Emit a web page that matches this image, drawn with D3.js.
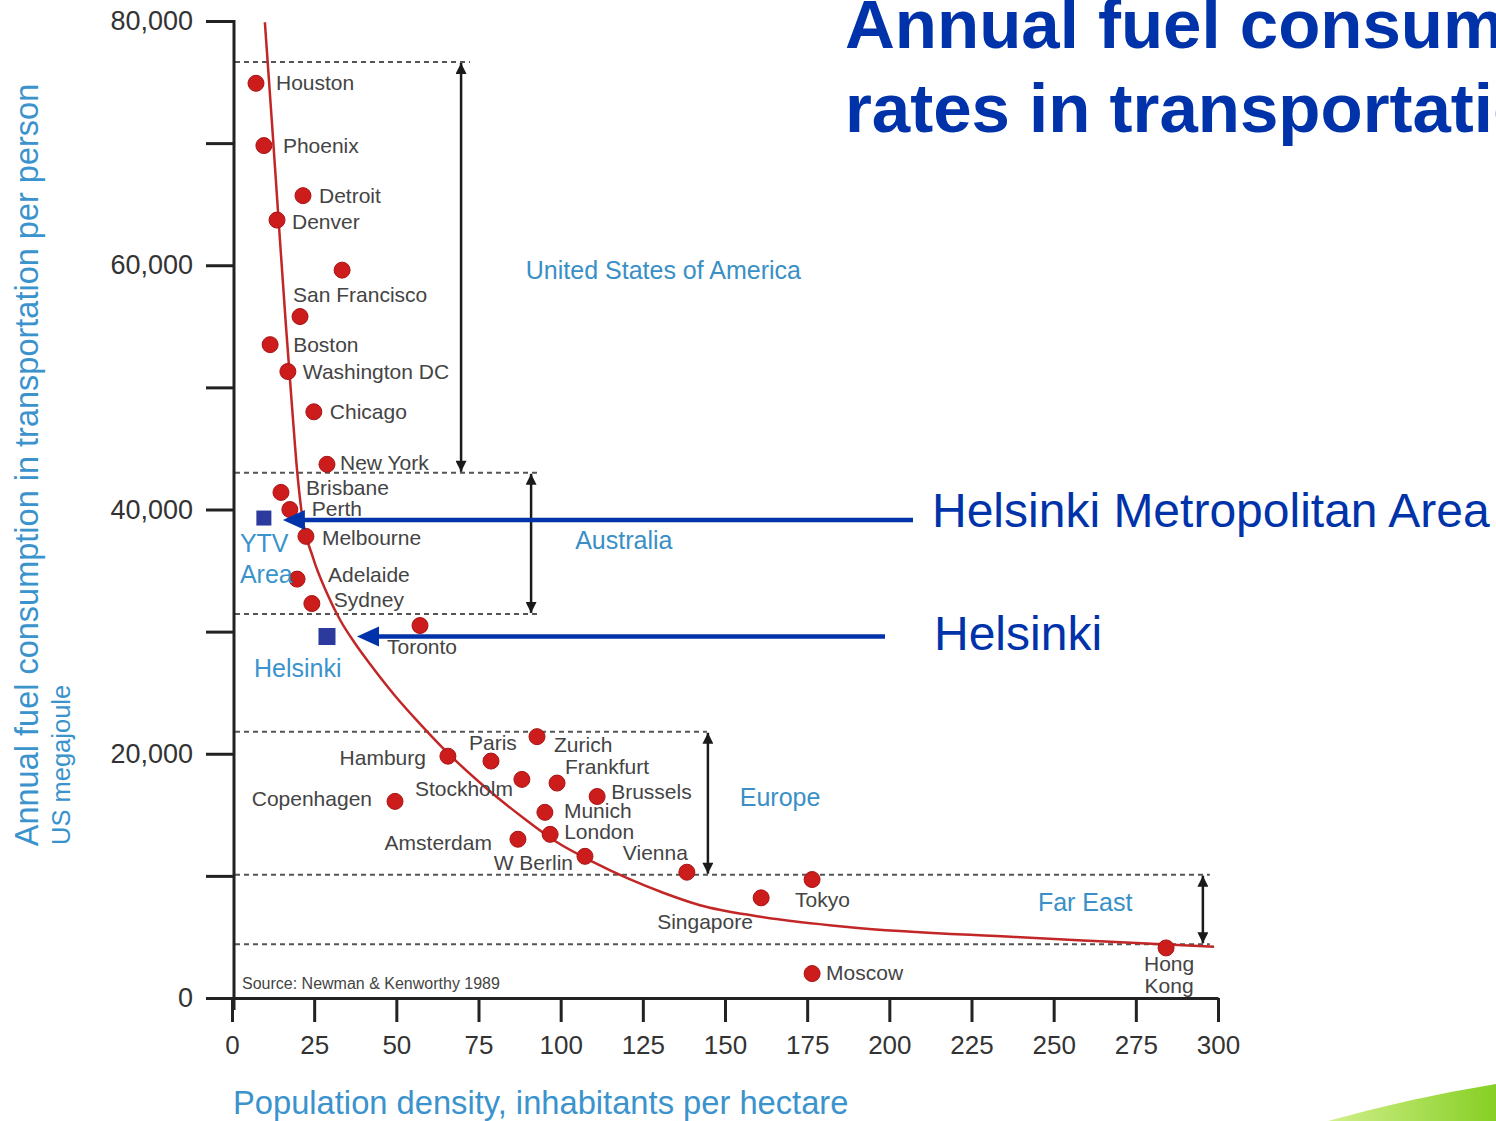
<!DOCTYPE html>
<html><head><meta charset="utf-8">
<script src="https://cdn.jsdelivr.net/npm/d3@7"></script>
<style>html,body{margin:0;padding:0;background:#fff;overflow:hidden}</style>
</head><body><svg id="chart" width="1496" height="1121"></svg>
<script>
// ---------------- DATA ----------------
const cityNames   = ["Houston","Phoenix","Detroit","Denver","","San Francisco","Boston","Washington DC","Chicago","New York",
                     "Brisbane","Perth","Melbourne","Adelaide","Sydney","Toronto",
                     "Hamburg","Paris","Zurich","Stockholm","Frankfurt","Copenhagen","Brussels","Munich","London","Amsterdam","W Berlin","Vienna",
                     "Singapore","Tokyo","Moscow","Hong Kong"];
const cityDensity = [7.3, 9.7, 21.6, 13.7, 33.5, 20.7, 11.6, 17.0, 24.9, 28.9,
                     14.9, 17.6, 22.5, 19.8, 24.3, 57.2,
                     65.7, 78.8, 92.8, 88.2, 98.9, 49.6, 111.1, 95.2, 96.8, 87.0, 107.4, 138.4,
                     161.0, 176.5, 176.5, 284.2];
const cityFuel    = [74900, 69800, 65700, 63700, 59600, 55800, 53500, 51300, 48000, 43700,
                     41400, 40000, 37800, 34300, 32300, 30500,
                     19800, 19400, 21400, 17900, 17600, 16100, 16500, 15200, 13400, 13000, 11600, 10300,
                     8200, 9700, 2000, 4100];

const helsinkiNames   = ["YTV Area", "Helsinki"];
const helsinkiDensity = [9.7, 28.9];
const helsinkiFuel    = [39300, 29600];
const annotationTexts = ["Helsinki Metropolitan Area", "Helsinki"];

const trendDensity = [10.0, 12.2, 14.3, 16.4, 18.3, 19.8, 21.3, 24.6, 28.9, 32.9, 37.4, 42.0, 49.9, 57.2, 65.7, 77.3, 87.9, 98.9, 109.8, 120.8, 131.4, 142.4, 159.7, 188.0, 238.2, 264.1, 298.8];
const trendFuel    = [79900, 71500, 63200, 55100, 48300, 43200, 39550, 36100, 33150, 30950, 29050, 27350, 24650, 22450, 20050, 17200, 14900, 12750, 11150, 9750, 8600, 7600, 6700, 5800, 5000, 4650, 4200];

const regionNames  = ["United States of America", "Australia", "Europe", "Far East"];
const regionTop    = [76650, 43000, 21800, 10100];
const regionBottom = [43000, 31450, 10100, 4400];
const regionArrowX = [69.7, 91.0, 144.8, 295.4];
const regionLineEnd= [72.4, 93.7, 144.5, 297.5];

const xTickValues = [0, 25, 50, 75, 100, 125, 150, 175, 200, 225, 250, 275, 300];
const yTickValues = [0, 10000, 20000, 30000, 40000, 50000, 60000, 70000, 80000];
const yLabelled   = [0, 20000, 40000, 60000, 80000];

const titleLines = ["Annual fuel consumption", "rates in transportation"];
const xTitle = "Population density, inhabitants per hectare";
const yTitle = "Annual fuel consumption in transportation per person";
const yUnit  = "US megajoule";
const sourceText = "Source: Newman & Kenworthy 1989";

// ---------------- LAYOUT ----------------
const FONT = "'Liberation Sans', Arial, Helvetica, sans-serif";
const labelLayout = { // [dx, dy, anchor] in px relative to dot
  "Houston":[20,7,"start"], "Phoenix":[19,7,"start"], "Detroit":[16,7,"start"], "Denver":[15,9,"start"],
  "San Francisco":[-7,-15,"start"], "Boston":[23,7,"start"], "Washington DC":[15,8,"start"], "Chicago":[16,7,"start"],
  "New York":[13,6,"start"], "Brisbane":[25,3,"start"], "Perth":[22,6,"start"], "Melbourne":[16,9,"start"],
  "Adelaide":[31,3,"start"], "Sydney":[22,3,"start"], "Toronto":[-33,28,"start"],
  "Hamburg":[-22,9,"end"], "Paris":[-22,-11,"start"], "Zurich":[17,15,"start"], "Stockholm":[-107,17,"start"],
  "Frankfurt":[8,-9,"start"], "Copenhagen":[-23,5,"end"], "Brussels":[14,3,"start"], "Munich":[19,6,"start"],
  "London":[14,5,"start"], "Amsterdam":[-26,11,"end"], "W Berlin":[-12,14,"end"], "Vienna":[-64,-12,"start"],
  "Singapore":[-104,31,"start"], "Tokyo":[-17,27,"start"], "Moscow":[14,6,"start"], "Hong Kong":[3,23,"middle"]
};
const regionLabelPos = [[89.4, 58900], [104.4, 36800], [154.5, 15700], [245.2, 7100]];

const svg = d3.select("#chart");
const x = d3.scaleLinear().domain([0, 300]).range([232, 1218]);
const y = d3.scaleLinear().domain([0, 80000]).range([998, 21]);

// defs
const defs = svg.append("defs");
defs.append("marker").attr("id","blk").attr("viewBox","0 0 10 10").attr("refX",10).attr("refY",5)
  .attr("markerWidth",13).attr("markerHeight",11).attr("markerUnits","userSpaceOnUse").attr("orient","auto-start-reverse")
  .append("path").attr("d","M0,0 L10,5 L0,10 Z").attr("fill","#1a1a1a");
const grad = defs.append("linearGradient").attr("id","grn").attr("x1","0").attr("y1","0").attr("x2","1").attr("y2","0");
grad.append("stop").attr("offset","0").attr("stop-color","#d2f08c");
grad.append("stop").attr("offset","1").attr("stop-color","#86cf24");

// green swoosh in corner
svg.append("path").attr("d","M1328,1121 Q1410,1098 1496,1084 L1496,1121 Z").attr("fill","url(#grn)");

// title
const title = svg.append("text").attr("font-family", FONT).attr("font-weight","bold").attr("font-size",69).attr("fill","#0033aa");
titleLines.forEach((t,i)=> title.append("tspan").attr("x",845).attr("y", i===0 ? 48 : 132).text(t));

// region dotted lines
const hLines = [];
regionTop.forEach((v,i)=> hLines.push({v, end: regionLineEnd[i]}));
hLines.push({v: regionBottom[1], end: 92.8});
hLines.push({v: regionBottom[3], end: 297.5});
svg.append("g").selectAll("line").data(hLines).join("line")
  .attr("x1", x(0)+3).attr("x2", d=>x(d.end)).attr("y1", d=>y(d.v)).attr("y2", d=>y(d.v))
  .attr("stroke","#555").attr("stroke-width",2).attr("stroke-dasharray","5,4");

// region double arrows
svg.append("g").selectAll("line").data(regionNames).join("line")
  .attr("x1",(d,i)=>x(regionArrowX[i])).attr("x2",(d,i)=>x(regionArrowX[i]))
  .attr("y1",(d,i)=>y(regionTop[i])+1).attr("y2",(d,i)=>y(regionBottom[i])-1)
  .attr("stroke","#1a1a1a").attr("stroke-width",2.5)
  .attr("marker-start","url(#blk)").attr("marker-end","url(#blk)");

// region labels
svg.append("g").selectAll("text").data(regionNames).join("text")
  .attr("x",(d,i)=>x(regionLabelPos[i][0])).attr("y",(d,i)=>y(regionLabelPos[i][1]))
  .attr("font-family",FONT).attr("font-size",25).attr("fill","#3a8fc6").text(d=>d);

// axes
const yAxis = d3.axisLeft(y).tickValues(yTickValues).tickSize(28).tickSizeOuter(0).tickPadding(13)
  .tickFormat(d => yLabelled.includes(d) ? d3.format(",")(d) : "");
const gy = svg.append("g").attr("transform",`translate(${x(0)+2},0)`).call(yAxis);
gy.select(".domain").remove();
gy.selectAll(".tick line").attr("stroke","#222").attr("stroke-width",3);
gy.selectAll(".tick text").attr("font-family",FONT).attr("font-size",27).attr("fill","#333");

const xAxis = d3.axisBottom(x).tickValues(xTickValues).tickSize(24).tickSizeOuter(0).tickPadding(14).tickFormat(d3.format("d"));
const gx = svg.append("g").attr("transform",`translate(0,${y(0)})`).call(xAxis);
gx.select(".domain").attr("stroke","#222").attr("stroke-width",3);
gx.selectAll(".tick line").attr("stroke","#222").attr("stroke-width",3);
gx.selectAll(".tick text").attr("font-family",FONT).attr("font-size",26).attr("fill","#333");

// y axis line
svg.append("line").attr("x1",x(0)+2).attr("x2",x(0)+2).attr("y1",y(80000)-1).attr("y2",y(0)+12)
  .attr("stroke","#222").attr("stroke-width",3);

// axis titles
svg.append("text").attr("transform",`translate(38,465) rotate(-90)`)
  .attr("text-anchor","middle").attr("font-family",FONT).attr("font-size",32.5).attr("fill","#3a93cc").text(yTitle);
svg.append("text").attr("transform",`translate(70,845) rotate(-90)`)
  .attr("text-anchor","start").attr("font-family",FONT).attr("font-size",25.5).attr("fill","#3a93cc").text(yUnit);
svg.append("text").attr("x",233).attr("y",1114).attr("font-family",FONT).attr("font-size",32.7).attr("fill","#3a93cc").text(xTitle);

// source
svg.append("text").attr("x",242).attr("y",989).attr("font-family",FONT).attr("font-size",16).attr("fill","#444").text(sourceText);

// trend curve
const trend = trendDensity.map((d,i)=>[d, trendFuel[i]]);
svg.append("path").datum(trend)
  .attr("d", d3.line().x(d=>x(d[0])).y(d=>y(d[1])).curve(d3.curveMonotoneX))
  .attr("fill","none").attr("stroke","#c22626").attr("stroke-width",2.5);

// city dots
const cities = cityNames.map((n,i)=>({name:n, dens:cityDensity[i], fuel:cityFuel[i]}));
svg.append("g").selectAll("circle").data(cities).join("circle")
  .attr("cx",d=>x(d.dens)).attr("cy",d=>y(d.fuel)).attr("r",8)
  .attr("fill","#cc1c1c").attr("stroke","#a81414").attr("stroke-width",1);

// city labels
const lab = svg.append("g").attr("font-family",FONT).attr("font-size",21).attr("fill","#444");
cities.filter(d=>d.name && labelLayout[d.name]).forEach(d=>{
  const [dx,dy,anc] = labelLayout[d.name];
  const t = lab.append("text").attr("text-anchor",anc);
  if (d.name === "Hong Kong") {
    t.append("tspan").attr("x",x(d.dens)+dx).attr("y",y(d.fuel)+dy).text("Hong");
    t.append("tspan").attr("x",x(d.dens)+dx).attr("y",y(d.fuel)+dy+22).text("Kong");
  } else {
    t.attr("x",x(d.dens)+dx).attr("y",y(d.fuel)+dy).text(d.name);
  }
});

// Helsinki squares
const hel = helsinkiNames.map((n,i)=>({name:n, dens:helsinkiDensity[i], fuel:helsinkiFuel[i]}));
const sq = [15, 17];
svg.append("g").selectAll("rect").data(hel).join("rect")
  .attr("x",(d,i)=>x(d.dens)-sq[i]/2).attr("y",(d,i)=>y(d.fuel)-sq[i]/2)
  .attr("width",(d,i)=>sq[i]).attr("height",(d,i)=>sq[i]).attr("fill","#2b3a9c");
// Helsinki labels
const hl = svg.append("g").attr("font-family",FONT).attr("font-size",25).attr("fill","#3a93cc");
hl.append("text").attr("x",x(hel[0].dens)-24).attr("y",y(hel[0].fuel)+34).text("YTV");
hl.append("text").attr("x",x(hel[0].dens)-24).attr("y",y(hel[0].fuel)+65).text("Area");
hl.append("text").attr("x",x(hel[1].dens)-73).attr("y",y(hel[1].fuel)+40).text("Helsinki");

// blue annotation arrows
const annStart = [913, 885];
const tipGap = [19, 30];
hel.forEach((d,i)=>{
  const ty = y(d.fuel) + (i===0 ? 2 : 0);
  const tx = x(d.dens) + tipGap[i];
  svg.append("line").attr("x1",annStart[i]).attr("x2",tx+18).attr("y1",ty).attr("y2",ty)
    .attr("stroke","#0033aa").attr("stroke-width",4.5);
  svg.append("path").attr("d",`M${tx},${ty} L${tx+22},${ty-10} L${tx+22},${ty+10} Z`).attr("fill","#0033aa");
});
svg.append("text").attr("x",932).attr("y",527).attr("font-family",FONT).attr("font-size",48).attr("fill","#0033aa").text(annotationTexts[0]);
svg.append("text").attr("x",934).attr("y",650).attr("font-family",FONT).attr("font-size",48).attr("fill","#0033aa").text(annotationTexts[1]);
</script></body></html>
